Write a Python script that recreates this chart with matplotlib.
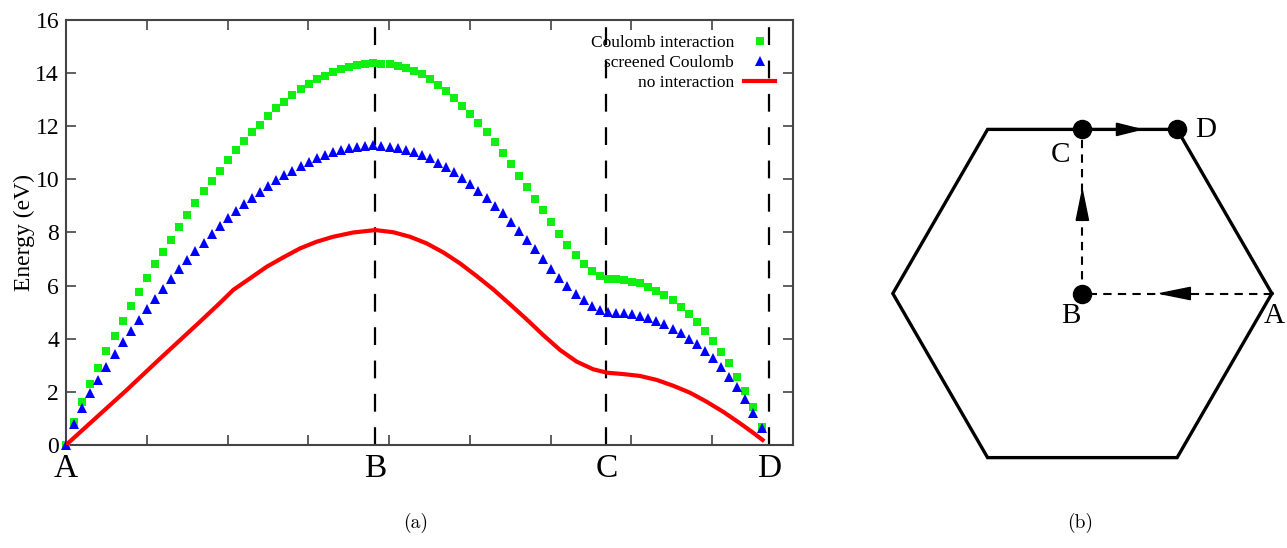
import numpy as np
import matplotlib
matplotlib.use("Agg")
import matplotlib.pyplot as plt

plt.rcParams['font.family'] = ['Liberation Serif', 'DejaVu Serif']

# high symmetry points along the path (x axis runs 0..9)
path_labels = ['A', 'B', 'C', 'D']
path_pos = [0.0, 3.83, 6.69, 8.70]

# exciton energies (eV) at evenly spaced k points along A-B-C-D
e_coulomb = [0.00, 0.88, 1.63, 2.30, 2.91, 3.53, 4.10, 4.68, 5.23, 5.76,
             6.30, 6.81, 7.28, 7.72, 8.19, 8.64, 9.10, 9.55, 9.95, 10.32,
             10.72, 11.10, 11.45, 11.79, 12.06, 12.37, 12.67, 12.90, 13.17, 13.39,
             13.60, 13.76, 13.90, 14.04, 14.15, 14.24, 14.31, 14.35, 14.37, 14.36,
             14.33, 14.27, 14.20, 14.08, 13.95, 13.77, 13.56, 13.32, 13.07, 12.78,
             12.46, 12.11, 11.78, 11.40, 11.01, 10.57, 10.13, 9.72, 9.27, 8.83,
             8.39, 7.95, 7.53, 7.14, 6.80, 6.56, 6.36, 6.25, 6.25, 6.21,
             6.15, 6.09, 5.96, 5.81, 5.64, 5.46, 5.20, 4.93, 4.64, 4.30,
             3.93, 3.51, 3.08, 2.57, 2.03, 1.44, 0.69]
e_screened = [0.00, 0.78, 1.40, 1.97, 2.45, 2.95, 3.41, 3.88, 4.30, 4.69,
              5.11, 5.51, 5.87, 6.25, 6.63, 6.98, 7.29, 7.62, 7.94, 8.25,
              8.56, 8.82, 9.07, 9.31, 9.54, 9.75, 9.97, 10.15, 10.33, 10.50,
              10.65, 10.79, 10.92, 11.02, 11.11, 11.17, 11.23, 11.27, 11.28, 11.27,
              11.23, 11.17, 11.11, 11.02, 10.92, 10.79, 10.63, 10.48, 10.28, 10.06,
              9.83, 9.57, 9.30, 9.01, 8.72, 8.40, 8.05, 7.70, 7.37, 6.99,
              6.64, 6.30, 5.99, 5.69, 5.46, 5.23, 5.08, 5.02, 4.98, 4.96,
              4.93, 4.87, 4.77, 4.67, 4.54, 4.38, 4.20, 4.00, 3.79, 3.54,
              3.26, 2.95, 2.57, 2.17, 1.72, 1.22, 0.63]
k_end = 8.61

# no interaction curve
k_free = [0.00, 0.751, 1.163, 1.658, 1.906, 2.071, 2.30, 2.484, 2.70, 2.896,
          3.10, 3.308, 3.556, 3.828, 4.051, 4.257, 4.464, 4.670, 4.876, 5.083,
          5.288, 5.495, 5.702, 5.907, 6.114, 6.320, 6.526, 6.699, 6.897, 7.104,
          7.311, 7.516, 7.723, 7.929, 8.135, 8.342, 8.506, 8.623]
e_free = [0.00, 2.07, 3.25, 4.64, 5.35, 5.84, 6.32, 6.71, 7.08, 7.40,
          7.65, 7.84, 8.00, 8.09, 8.01, 7.84, 7.59, 7.25, 6.84, 6.36,
          5.86, 5.30, 4.73, 4.14, 3.58, 3.14, 2.85, 2.72, 2.67, 2.60,
          2.45, 2.23, 1.97, 1.63, 1.25, 0.82, 0.46, 0.19]

k_pts = np.linspace(0, k_end, len(e_coulomb))

fig = plt.figure(figsize=(12.87, 5.48), dpi=100)

# ---- (a) dispersion ----
ax = fig.add_axes([0.0513, 0.188, 0.5649, 0.7755])
frame = '#444444'
for s in ax.spines.values():
    s.set_color(frame)
    s.set_linewidth(1.5)

for p in path_pos[1:]:
    ax.axvline(p, color='k', lw=1.6, ls=(0, (8, 7)), zorder=1)

g, = ax.plot(k_pts, e_coulomb, ls='none', marker='s', ms=6, mew=0,
             color='#11ee11', clip_on=False, zorder=3)
b, = ax.plot(k_pts, e_screened, ls='none', marker='^', ms=6.5, mew=0,
             color='#0000ff', clip_on=False, zorder=4)
r, = ax.plot(k_free, e_free, color='#ff0000', lw=3, zorder=5)

ax.set_xlim(0, 9)
ax.set_ylim(0, 16)
ax.set_xticks(path_pos, path_labels)
ax.set_xticks(np.arange(1, 9), minor=True)
ax.tick_params(axis='x', which='major', length=0, pad=6, labelsize=24)
ax.tick_params(axis='x', which='minor', direction='in', length=7, width=1.2,
               color=frame, top=True)
ax.set_yticks(range(0, 17, 2))
ax.tick_params(axis='y', direction='in', length=7, width=1.2, color=frame,
               right=True, labelsize=17, pad=5)
ax.set_ylabel('Energy (eV)', fontsize=17, labelpad=0)

ax.legend([g, b, r], ['Coulomb interaction', 'screened Coulomb', 'no interaction'],
          loc='upper right', bbox_to_anchor=(0.975, 0.965), frameon=False,
          markerfirst=False, fontsize=12.5, handlelength=1.75, handletextpad=0.6,
          labelspacing=0.22, borderpad=0, borderaxespad=0, numpoints=1)

fig.text(416 / 1287, 1 - 523 / 548, '(a)', ha='center', va='center',
         family='cmr10', fontsize=14)

# ---- (b) Brillouin zone ----
axb = fig.add_axes([0.679, 0.1186, 0.3166, 0.6916])
axb.set_xlim(-1.1, 1.05)
axb.set_ylim(-1, 1)
axb.axis('off')

ang = np.deg2rad(np.arange(0, 361, 60))
axb.plot(np.cos(ang), np.sin(ang), color='k', lw=2.4, solid_joinstyle='miter')

h = np.sqrt(3) / 2
pt_A = (1.0, 0.0)
pt_B = (0.0, 0.0)
pt_C = (0.0, h)
pt_D = (0.5, h)

axb.plot([pt_A[0], pt_B[0]], [pt_A[1], pt_B[1]], color='k', lw=1.5, ls=(0, (4, 3)))
axb.plot([pt_B[0], pt_C[0]], [pt_B[1], pt_C[1]], color='k', lw=1.5, ls=(0, (4, 3)))
axb.plot([pt_B[0], pt_C[0], pt_D[0]], [pt_B[1], pt_C[1], pt_D[1]], 'o',
         color='k', ms=13)

hl, hw = 0.16, 0.065
axb.arrow(0.57, 0.0, -hl, 0, width=0, head_width=hw, head_length=hl,
          length_includes_head=True, fc='k', ec='k')
axb.arrow(0.0, 0.386, 0, hl, width=0, head_width=hw, head_length=hl,
          length_includes_head=True, fc='k', ec='k')
axb.arrow(0.18, h, 0.13, 0, width=0, head_width=hw, head_length=0.13,
          length_includes_head=True, fc='k', ec='k')

lab = dict(fontsize=21, ha='center', va='center')
axb.text(-0.116, 0.73, 'C', **lab)
axb.text(0.65, 0.863, 'D', **lab)
axb.text(-0.06, -0.12, 'B', **lab)
axb.text(1.01, -0.12, 'A', **lab)

fig.text(1080 / 1287, 1 - 523 / 548, '(b)', ha='center', va='center',
         family='cmr10', fontsize=14)

fig.savefig('out.png', dpi=100)
